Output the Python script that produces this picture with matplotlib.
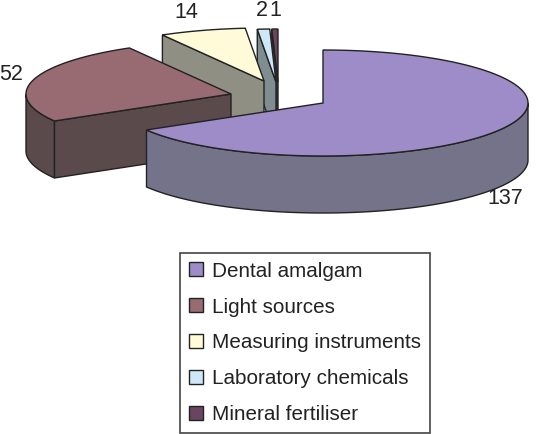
import matplotlib
matplotlib.use("Agg")
import matplotlib.pyplot as plt
from matplotlib.patches import Polygon
import numpy as np

plt.rcParams["font.family"] = ["Liberation Sans", "DejaVu Sans"]

categories = ["Dental amalgam", "Light sources", "Measuring instruments",
              "Laboratory chemicals", "Mineral fertiliser"]
values = [137, 52, 14, 2, 1]
top_colors = ["#9e8cc8", "#986a72", "#fffbd8", "#cfe8f8", "#6a4560"]
side_colors = ["#75738a", "#5b4a4c", "#8f8f84", "#7f8c90", "#3d3340"]

# exploded slice tips in pixels, and the tilted disc size
apex_x = [323, 231, 264, 276, 278]
apex_y = [103, 94, 81, 82, 82]
label_pos = [(505, 198), (11, 75), (186, 13), (262, 10), (275, 10)]
RX, RY, DEPTH = 205, 53, 57
EDGE = "#222222"


def arc(cx, cy, a0, a1, dy=0):
    # angles clockwise from 12 o'clock, in degrees
    t = np.radians(np.linspace(a0, a1, 120))
    return np.column_stack([cx + RX * np.sin(t), cy - RY * np.cos(t) + dy])


fig = plt.figure(figsize=(5.5, 4.34), dpi=100)
ax = fig.add_axes([0, 0, 1, 1])
ax.set_xlim(0, 550)
ax.set_ylim(434, 0)
ax.axis("off")

edges = np.cumsum([0] + values) / sum(values) * 360
handles = []
# back slices first, the big front one last
for i in reversed(range(len(values))):
    a0, a1 = edges[i], edges[i + 1]
    cx, cy = apex_x[i], apex_y[i]
    tip = np.array([[cx, cy]])
    # cut faces that look toward the viewer
    if a0 > 270:
        p = arc(cx, cy, a0, a0)[:1]
        face = np.vstack([p, tip, tip + [0, DEPTH], p + [0, DEPTH]])
        ax.add_patch(Polygon(face, fc=side_colors[i], ec=EDGE, lw=1))
    # outer wall, only on the near half of the rim
    w0, w1 = max(a0, 90), min(a1, 270)
    if w0 < w1:
        wall = np.vstack([arc(cx, cy, w0, w1), arc(cx, cy, w0, w1, DEPTH)[::-1]])
        ax.add_patch(Polygon(wall, fc=side_colors[i], ec=EDGE, lw=1))
    if i == 1:
        # vertical corner of the front cut edge
        ax.add_patch(Polygon(np.vstack([arc(cx, cy, a0, a0)[:1], tip, tip + [0, DEPTH],
                                        arc(cx, cy, a0, a0, DEPTH)[:1]]),
                             fc=side_colors[i], ec=EDGE, lw=1))
    top = Polygon(np.vstack([tip, arc(cx, cy, a0, a1)]), fc=top_colors[i], ec=EDGE, lw=1,
                  label=categories[i])
    ax.add_patch(top)
    handles.insert(0, top)

for v, (x, y) in zip(values, label_pos):
    ax.text(x, y, str(v), fontsize=15.5, color="#222222", ha="center", va="center")

leg = ax.legend(handles=handles, loc="center", bbox_to_anchor=(305, 343),
                bbox_transform=ax.transData, fontsize=14.9, frameon=True, fancybox=False,
                edgecolor="#444444", framealpha=1, labelspacing=0.82, borderpad=0.42,
                handlelength=0.68, handleheight=0.68, handletextpad=0.43, labelcolor="#222222")
leg.get_frame().set_linewidth(1.2)

fig.savefig("out.png", dpi=100)
